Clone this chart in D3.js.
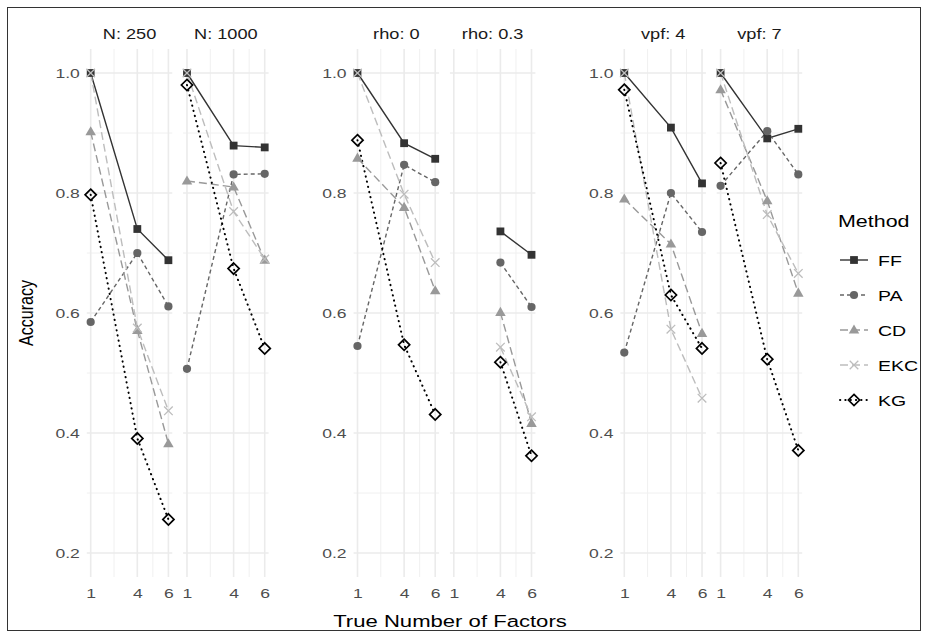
<!DOCTYPE html>
<html>

<head>
    <meta charset="UTF-8">
    <style>
        body { margin: 0; background: white; }
        svg { font-family: "Liberation Sans", Arial, sans-serif; display: block; }
        .tick line { display: none; }
        .domain { display: none; }
    </style>
</head>

<body>
    <svg></svg>
    <script src="https://d3js.org/d3.v7.min.js"></script>

    <script>

        // facet labels, three plots with two panels each
        let panelLabels = ["N: 250", "N: 1000", "rho: 0", "rho: 0.3", "vpf: 4", "vpf: 7"];
        let trueFactors = [1, 4, 6];
        let yTicks = [0.2, 0.4, 0.6, 0.8, 1.0];
        let methods = ["FF", "PA", "CD", "EKC", "KG"];

        // accuracy per panel at 1, 4, 6 true factors (null = not run)
        let accFF = [[1.0, 0.740, 0.688], [1.0, 0.879, 0.876], [1.0, 0.883, 0.857],
                     [null, 0.736, 0.697], [1.0, 0.909, 0.816], [1.0, 0.891, 0.907]];
        let accPA = [[0.585, 0.700, 0.611], [0.507, 0.831, 0.832], [0.545, 0.847, 0.818],
                     [null, 0.684, 0.610], [0.534, 0.800, 0.735], [0.812, 0.903, 0.831]];
        let accCD = [[0.902, 0.571, 0.382], [0.820, 0.810, 0.688], [0.858, 0.776, 0.637],
                     [null, 0.601, 0.416], [0.790, 0.715, 0.566], [0.972, 0.787, 0.633]];
        let accEKC = [[1.0, 0.575, 0.437], [1.0, 0.769, 0.690], [1.0, 0.798, 0.684],
                      [null, 0.543, 0.427], [1.0, 0.573, 0.458], [1.0, 0.764, 0.666]];
        let accKG = [[0.797, 0.391, 0.256], [0.980, 0.674, 0.541], [0.888, 0.547, 0.431],
                     [null, 0.518, 0.362], [0.972, 0.630, 0.541], [0.850, 0.523, 0.371]];

        let accuracy = { FF: accFF, PA: accPA, CD: accCD, EKC: accEKC, KG: accKG };

        let colors = { FF: "#333333", PA: "#666666", CD: "#999999", EKC: "#bdbdbd", KG: "#000000" };
        let dashes = { FF: null, PA: "4,3", CD: "8,4", EKC: "8,4", KG: "0.3,5" };
        let shapes = { FF: "square", PA: "circle", CD: "triangle", EKC: "cross", KG: "diamond" };

        // the reference is a bit wider than tall, so text is stretched sideways
        let sx = 1.3;

        let width = 928, height = 638;
        let svg = d3.select("svg").attr("width", width).attr("height", height);

        // outer frame
        svg.append("rect")
            .attr("x", 7.5).attr("y", 7.5)
            .attr("width", width - 15).attr("height", height - 15)
            .attr("fill", "none").attr("stroke", "#333").attr("stroke-width", 1);

        let panelTop = 49, panelBottom = 577;
        let panelW = 85.5;
        let groupLeft = [86.8, 353.6, 620.4];
        let innerStep = 96.3;

        let y = d3.scaleLinear().domain([0.16, 1.04]).range([panelBottom, panelTop]);

        function panelLeft(i) {
            return groupLeft[Math.floor(i / 2)] + (i % 2) * innerStep;
        }

        function label(parent, x0, y0, txt, size, col, anchor) {
            parent.append("g").attr("transform", "translate(" + x0 + "," + y0 + ") scale(" + sx + ",1)")
                .append("text")
                .attr("text-anchor", anchor || "start")
                .attr("font-size", size).attr("fill", col)
                .text(txt);
        }

        function drawShape(g, shape, cx, cy, col) {
            if (shape === "square") {
                g.append("rect").attr("x", cx - 3.9).attr("y", cy - 3.9)
                    .attr("width", 7.8).attr("height", 7.8).attr("fill", col);
            } else if (shape === "circle") {
                g.append("circle").attr("cx", cx).attr("cy", cy).attr("r", 4.1).attr("fill", col);
            } else if (shape === "triangle") {
                g.append("path").attr("fill", col)
                    .attr("d", d3.symbol(d3.symbolTriangle, 48)())
                    .attr("transform", "translate(" + cx + "," + (cy + 0.5) + ")");
            } else if (shape === "cross") {
                let s = 4.3;
                g.append("path").attr("stroke", col).attr("stroke-width", 1.3).attr("fill", "none")
                    .attr("d", "M" + (cx - s) + "," + (cy - s) + "L" + (cx + s) + "," + (cy + s) +
                        "M" + (cx - s) + "," + (cy + s) + "L" + (cx + s) + "," + (cy - s));
            } else if (shape === "diamond") {
                let s = 5.6;
                g.append("path").attr("stroke", col).attr("stroke-width", 1.7).attr("fill", "none")
                    .attr("d", "M" + cx + "," + (cy - s) + "L" + (cx + s) + "," + cy +
                        "L" + cx + "," + (cy + s) + "L" + (cx - s) + "," + cy + "Z");
            }
        }

        panelLabels.forEach(function (lab, i) {
            let left = panelLeft(i);
            let x = d3.scaleLinear().domain([0.75, 6.25]).range([left, left + panelW]);
            let g = svg.append("g");

            // minor grid
            g.selectAll(".minorY").data([0.3, 0.5, 0.7, 0.9]).enter().append("line")
                .attr("x1", left).attr("x2", left + panelW)
                .attr("y1", d => y(d)).attr("y2", d => y(d))
                .attr("stroke", "#f0f0f0").attr("stroke-width", 1);
            g.selectAll(".minorX").data([2.5, 5]).enter().append("line")
                .attr("x1", d => x(d)).attr("x2", d => x(d))
                .attr("y1", panelTop).attr("y2", panelBottom)
                .attr("stroke", "#f0f0f0").attr("stroke-width", 1);
            // major grid
            g.selectAll(".majorY").data(yTicks).enter().append("line")
                .attr("x1", left).attr("x2", left + panelW)
                .attr("y1", d => y(d)).attr("y2", d => y(d))
                .attr("stroke", "#ebebeb").attr("stroke-width", 1.6);
            g.selectAll(".majorX").data(trueFactors).enter().append("line")
                .attr("x1", d => x(d)).attr("x2", d => x(d))
                .attr("y1", panelTop).attr("y2", panelBottom)
                .attr("stroke", "#ebebeb").attr("stroke-width", 1.6);

            // strip
            label(g, left + panelW / 2, 38.5, lab, 14, "#1a1a1a", "middle");

            // x tick labels
            let xAxis = g.append("g").attr("transform", "translate(0," + (panelBottom + 6) + ")")
                .call(d3.axisBottom(x).tickValues(trueFactors).tickSize(0).tickFormat(d3.format("d")));
            xAxis.selectAll("text").attr("font-size", 13.5).attr("fill", "#4d4d4d")
                .attr("font-family", "Liberation Sans, Arial, sans-serif").attr("dy", "0.9em")
                .attr("transform", "scale(" + sx + ",1)");

            // y tick labels only on the first panel of each plot
            if (i % 2 === 0) {
                let yAxis = g.append("g").attr("transform", "translate(" + (left - 7) + ",0)")
                    .call(d3.axisLeft(y).tickValues(yTicks).tickSize(0).tickFormat(d3.format(".1f")));
                yAxis.selectAll("text").attr("font-size", 13.5).attr("fill", "#4d4d4d")
                    .attr("font-family", "Liberation Sans, Arial, sans-serif")
                    .attr("x", 0)
                    .attr("transform", "scale(" + sx + ",1)");
            }

            let line = d3.line()
                .defined(d => d.v !== null)
                .x(d => x(d.f)).y(d => y(d.v));

            // lines first, then points
            methods.forEach(function (m) {
                let pts = trueFactors.map((f, j) => ({ f: f, v: accuracy[m][i][j] }));
                g.append("path").datum(pts)
                    .attr("d", line)
                    .attr("fill", "none")
                    .attr("stroke", colors[m])
                    .attr("stroke-width", m === "KG" ? 2 : 1.4)
                    .attr("stroke-linecap", m === "KG" ? "round" : "butt")
                    .attr("stroke-dasharray", dashes[m]);
            });
            methods.forEach(function (m) {
                trueFactors.forEach(function (f, j) {
                    let v = accuracy[m][i][j];
                    if (v !== null) drawShape(g, shapes[m], x(f), y(v), colors[m]);
                });
            });
        });

        // axis titles
        svg.append("g")
            .attr("transform", "translate(33," + ((panelTop + panelBottom) / 2) + ") rotate(-90) scale(1," + sx + ")")
            .append("text")
            .attr("text-anchor", "middle").attr("font-size", 16).attr("fill", "#000")
            .text("Accuracy");
        label(svg, 450, 627, "True Number of Factors", 17, "#000", "middle");

        // legend
        let legend = svg.append("g");
        label(legend, 838, 227, "Method", 16.5, "#000");
        let legendY = d3.scalePoint().domain(methods).range([260, 400]);
        methods.forEach(function (m) {
            let ly = legendY(m);
            legend.append("line")
                .attr("x1", 840).attr("x2", 868).attr("y1", ly).attr("y2", ly)
                .attr("stroke", colors[m]).attr("stroke-width", m === "KG" ? 2 : 1.4)
                .attr("stroke-linecap", m === "KG" ? "round" : "butt")
                .attr("stroke-dasharray", dashes[m]);
            drawShape(legend, shapes[m], 854, ly, colors[m]);
            label(legend, 878, ly + 5.5, m, 15, "#000");
        });

    </script>

</body>

</html>
